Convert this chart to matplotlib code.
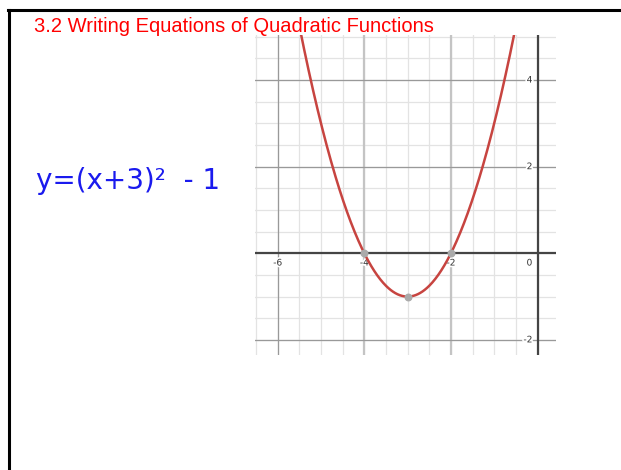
import numpy as np
import matplotlib.pyplot as plt
import matplotlib.patheffects as pe
from matplotlib.lines import Line2D

title = "3.2 Writing Equations of Quadratic Functions"
equation = "y=(x+3)²  - 1"
h, k = -3, -1
points_x = [-4, -2, -3]
points_y = [0, 0, -1]
xticks = [-6, -4, -2]
yticks = [4, 2, -2]

W, H = 621, 470
fig = plt.figure(figsize=(W / 100, H / 100), dpi=100)
fig.patch.set_facecolor("white")

# slide frame lines
fig.add_artist(Line2D([8 / W, 1], [1 - 10 / H, 1 - 10 / H], color="black", lw=2.2))
fig.add_artist(Line2D([9 / W, 9 / W], [0, 1 - 10 / H], color="black", lw=2.2))

# graph area in pixels
left, right, top, bottom = 255, 556, 35, 355
ax = fig.add_axes([left / W, (H - bottom) / H, (right - left) / W, (bottom - top) / H])
x0 = (left - 537.5) / 43.3
x1 = (right - 537.5) / 43.3
y1 = (253.3 - top) / 43.3
y0 = (253.3 - bottom) / 43.3
ax.set_xlim(x0, x1)
ax.set_ylim(y0, y1)
for s in ax.spines.values():
    s.set_visible(False)
ax.set_xticks([])
ax.set_yticks([])

for v in np.arange(-6.5, 0.5, 0.5):
    ax.axvline(v, color="#e3e3e3", lw=0.9, zorder=0)
for v in np.arange(-2, 5.5, 0.5):
    ax.axhline(v, color="#e3e3e3", lw=0.9, zorder=0)
for v in [-6]:
    ax.axvline(v, color="#999999", lw=0.9, zorder=1)
for v in [-4, -2]:
    ax.axvline(v, color="#c4c4c4", lw=1.6, zorder=1)
for v in [-2, 2, 4]:
    ax.axhline(v, color="#999999", lw=0.9, zorder=1)
ax.axhline(0, color="#444444", lw=1.6, zorder=2)
ax.axvline(0, color="#444444", lw=1.6, zorder=2)

halo = [pe.withStroke(linewidth=2.5, foreground="white")]
for t in xticks:
    ax.text(t, -0.12, str(t), ha="center", va="top", fontsize=6.5, color="#333333",
            path_effects=halo, zorder=3)
for t in yticks:
    ax.text(-0.12, t, str(t), ha="right", va="center", fontsize=6.5, color="#333333",
            path_effects=halo, zorder=3)
ax.text(-0.12, -0.12, "0", ha="right", va="top", fontsize=6.5, color="#333333",
        path_effects=halo, zorder=3)

xs = np.linspace(x0, x1, 400)
ax.plot(xs, (xs - h) ** 2 + k, color="#c74440", lw=1.8, zorder=4)
ax.scatter(points_x, points_y, s=22, color="#aaaaaa", zorder=5)

fig.text(34 / W, 1 - 27 / H, title, color="red", fontsize=14.5, family="Liberation Sans",
         ha="left", va="center", zorder=10)
fig.text(36 / W, 1 - 181 / H, equation, color="#1a1aee", fontsize=20, family="DejaVu Sans",
         ha="left", va="center")

fig.savefig("out.png", dpi=100)
